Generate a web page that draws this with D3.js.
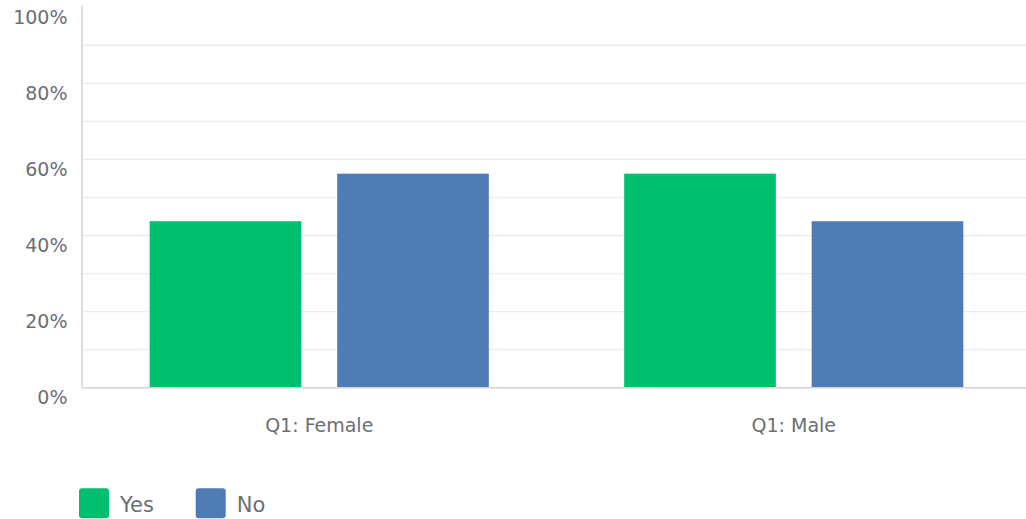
<!DOCTYPE html>
<html><head><meta charset="utf-8">
<script src="https://cdn.jsdelivr.net/npm/d3@7"></script>
<style>
html,body{margin:0;padding:0;background:#fff;}
text{font-family:"DejaVu Sans",sans-serif;fill:#6a6f73;}
</style></head>
<body><svg id="c" width="1026" height="519"></svg>
<script>
const categories = ["Q1: Female", "Q1: Male"];
const seriesNames = ["Yes", "No"];
const yesValues = [43.75, 56.25];
const noValues = [56.25, 43.75];
const yTicks = [0, 20, 40, 60, 80, 100];
const gridTicks = [10, 20, 30, 40, 50, 60, 70, 80, 90];
const colors = ["#00bf6f", "#507cb6"];

const svg = d3.select("#c");
const mLeft = 82, mRight = 1031, mTop = 7.2, mBottom = 387.7;

const x = d3.scaleBand().domain(categories).range([mLeft, mRight]).paddingInner(0).paddingOuter(0);
const xs = d3.scaleBand().domain(seriesNames).range([0, x.bandwidth()]).paddingInner(0.191).paddingOuter(0.361);
const y = d3.scaleLinear().domain([0, 100]).range([mBottom, mTop]);

// gridlines
svg.append("g").selectAll("line").data(gridTicks).join("line")
  .attr("x1", mLeft).attr("x2", 1026)
  .attr("y1", d => y(d)).attr("y2", d => y(d))
  .attr("stroke", "#ececec").attr("stroke-width", 1.3);

// bars
const rows = categories.map((c, i) => ({cat: c, vals: [yesValues[i], noValues[i]]}));
const g = svg.append("g").selectAll("g").data(rows).join("g")
  .attr("transform", d => `translate(${x(d.cat)},0)`);
g.selectAll("rect").data(d => d.vals.map((v, j) => ({s: seriesNames[j], v, j}))).join("rect")
  .attr("x", d => xs(d.s)).attr("width", xs.bandwidth())
  .attr("y", d => y(d.v)).attr("height", d => y(0) - y(d.v))
  .attr("fill", d => colors[d.j]);

// axes lines
svg.append("line").attr("x1", mLeft).attr("x2", mLeft).attr("y1", 5).attr("y2", mBottom)
  .attr("stroke", "#d4d4d4").attr("stroke-width", 1.5);
svg.append("line").attr("x1", mLeft).attr("x2", 1026).attr("y1", mBottom).attr("y2", mBottom)
  .attr("stroke", "#d4d4d4").attr("stroke-width", 1.5);

// y labels
svg.append("g").selectAll("text").data(yTicks).join("text")
  .attr("x", 67.5).attr("y", d => y(d) + 9.5)
  .attr("text-anchor", "end").attr("dominant-baseline", "central")
  .attr("font-size", 19).text(d => d + "%");

// x labels
svg.append("g").selectAll("text").data(categories).join("text")
  .attr("x", d => x(d) + x.bandwidth() / 2).attr("y", 424.5)
  .attr("text-anchor", "middle").attr("dominant-baseline", "central")
  .attr("font-size", 19).text(d => d);

// legend
const lg = svg.append("g").selectAll("g").data(seriesNames).join("g")
  .attr("transform", (d, i) => `translate(${79 + i * 116.7},488.3)`);
lg.append("rect").attr("width", 30).attr("height", 30).attr("rx", 3)
  .attr("fill", (d, i) => colors[i]);
lg.append("text").attr("x", 41).attr("y", 16.5).attr("dominant-baseline", "central")
  .attr("font-size", 21).text(d => d);
</script></body></html>
